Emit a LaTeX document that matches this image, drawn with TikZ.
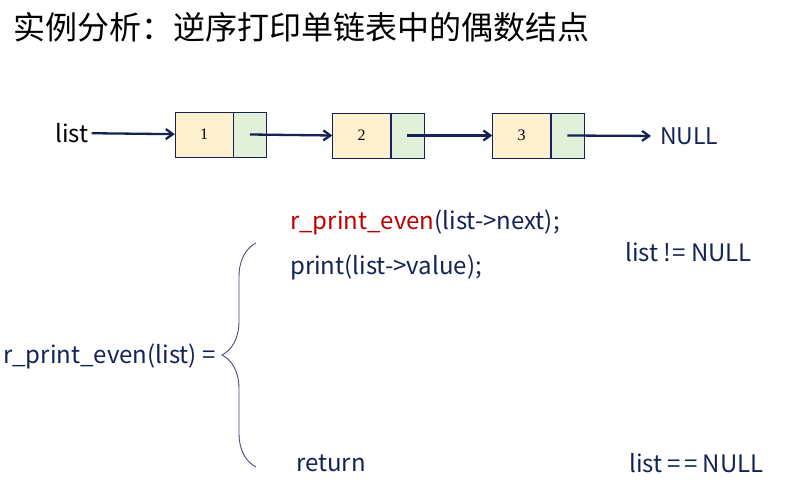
\documentclass[tikz,border=0pt]{standalone}
\usepackage{fontspec}
\setmainfont{Noto Sans CJK SC}
\newfontfamily\digitfont{Liberation Serif}
\usetikzlibrary{positioning,arrows.meta,decorations.pathreplacing}

\definecolor{navy}{RGB}{20,35,85}
\definecolor{cellyellow}{RGB}{253,240,207}
\definecolor{cellgreen}{RGB}{226,240,217}
\definecolor{darkred}{RGB}{192,0,0}

\tikzset{
  value/.style={draw=navy, fill=cellyellow, minimum width=58pt, minimum height=45pt, inner sep=0pt, font=\digitfont\fontsize{16}{18}\selectfont},
  pointer/.style={draw=navy, fill=cellgreen, minimum width=33pt, minimum height=45pt, inner sep=0pt, anchor=west},
  code/.style={anchor=west, inner sep=0pt, text=navy, font=\fontsize{24}{28}\selectfont},
  link/.style={->, draw=navy, line width=2.3pt}
}

\begin{document}
\begin{tikzpicture}[x=1pt,y=-1pt,>={Straight Barb[length=7pt,width=10pt]}]
        \useasboundingbox (0,0) rectangle (787,486);
        \node (title) [anchor=west, inner sep=0pt] at (13,27) {\fontsize{32}{36}\selectfont 实例分析：逆序打印单链表中的偶数结点};

        % the list
        \node (list) [code, text=black, inner sep=3pt] at (52,133) {list};
        \node (val1) [value] at (204,134.5) {1};
        \node (ptr1) [pointer] at (val1.east) {};
        \node (val2) [value] at (361.5,135.5) {2};
        \node (ptr2) [pointer] at (val2.east) {};
        \node (val3) [value] at (521.5,135.5) {3};
        \node (ptr3) [pointer] at (val3.east) {};
        \node (null) [code, inner sep=0pt, font=\fontsize{23}{27}\selectfont] at (660,136) {NULL};

        \draw[link] (list) -- (val1);
        \draw[link] (ptr1.center) -- (val2.west);
        \draw[link] (ptr2.center) -- (val3.west);
        \draw[link, shorten >=9pt] (ptr3.center) -- (null.west);

        % the recursive definition
        \node (lhs) [code] at (3,356) {r\_print\_even(list) =};
        \node (call) [code] at (290,222) {\textcolor{darkred}{r\_print\_even}(list->next);};
        \node (print) [code] at (290,267) {print(list->value);};
        \node (notnull) [code] at (625,252) {list !\kern1pt= NULL};
        \node (ret) [code] at (296,463) {return};
        \node (isnull) [code] at (629,463) {list =\kern3pt= NULL};

        \coordinate (bracetop) at (256,243);
        \coordinate (bracebot) at (256,467);
        \draw[navy!80, line width=0.9pt, decorate, decoration={brace, amplitude=34pt}] (bracebot) -- (bracetop);
    \end{tikzpicture}
\end{document}
